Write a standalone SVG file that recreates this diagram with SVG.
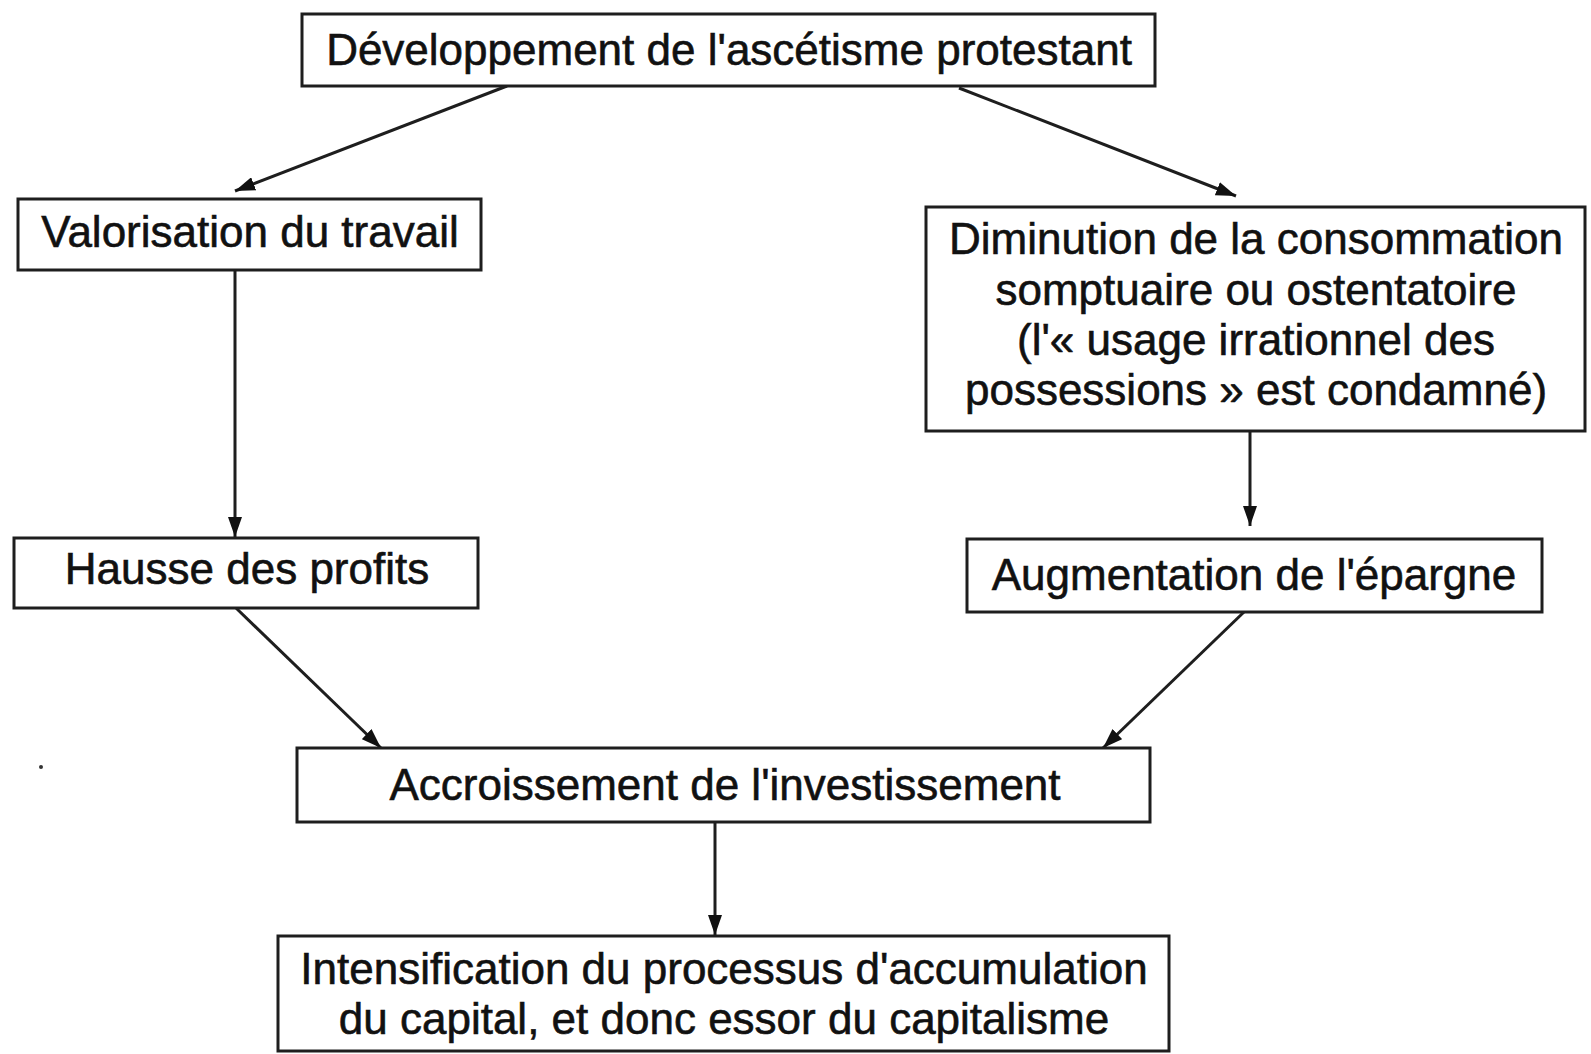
<svg xmlns="http://www.w3.org/2000/svg" width="1591" height="1054" viewBox="0 0 1591 1054">
<style>
.box{fill:#fff;stroke:#1e1e1e;stroke-width:3}
.t{font-family:"Liberation Sans",Arial,sans-serif;font-size:44px;fill:#111;stroke:#111;stroke-width:0.6;text-anchor:middle}
.c{stroke:#1e1e1e;stroke-width:3;fill:none;marker-end:url(#ah)}
</style>
<defs>
<marker id="ah" markerUnits="userSpaceOnUse" markerWidth="20" markerHeight="14" refX="20" refY="7" orient="auto">
<path d="M0,0 L20,7 L0,14 Z" fill="#111"/>
</marker>
</defs>
<rect width="1591" height="1054" fill="#fff"/>
<g id="connectors">
<line class="c" x1="507" y1="86" x2="235" y2="191"/>
<line class="c" x1="959" y1="88" x2="1236" y2="196"/>
<line class="c" x1="235" y1="270" x2="235" y2="537"/>
<line class="c" x1="1250" y1="431" x2="1250" y2="526"/>
<line class="c" x1="236" y1="608" x2="381" y2="748"/>
<line class="c" x1="1244" y1="612" x2="1103" y2="748"/>
<line class="c" x1="715" y1="822" x2="715" y2="935"/>
</g>
<g id="n1"><rect class="box" x="302" y="14" width="853" height="72"/><text class="t" x="729" y="65">Développement de l'ascétisme protestant</text></g>
<g id="n2"><rect class="box" x="18" y="199" width="463" height="71"/><text class="t" x="250" y="247">Valorisation du travail</text></g>
<g id="n3"><rect class="box" x="926" y="207" width="659" height="224"/>
<text class="t" x="1256" y="254">Diminution de la consommation</text>
<text class="t" x="1256" y="305">somptuaire ou ostentatoire</text>
<text class="t" x="1256" y="355">(l'« usage irrationnel des</text>
<text class="t" x="1256" y="405">possessions » est condamné)</text></g>
<g id="n4"><rect class="box" x="14" y="538" width="464" height="70"/><text class="t" x="247" y="584">Hausse des profits</text></g>
<g id="n5"><rect class="box" x="967" y="539" width="575" height="73"/><text class="t" x="1254" y="590">Augmentation de l'épargne</text></g>
<g id="n6"><rect class="box" x="297" y="748" width="853" height="74"/><text class="t" x="725" y="800">Accroissement de l'investissement</text></g>
<g id="n7"><rect class="box" x="278" y="936" width="891" height="115"/>
<text class="t" x="724" y="984">Intensification du processus d'accumulation</text>
<text class="t" x="724" y="1034">du capital, et donc essor du capitalisme</text></g>
<circle cx="41" cy="767" r="2" fill="#333"/>
</svg>
